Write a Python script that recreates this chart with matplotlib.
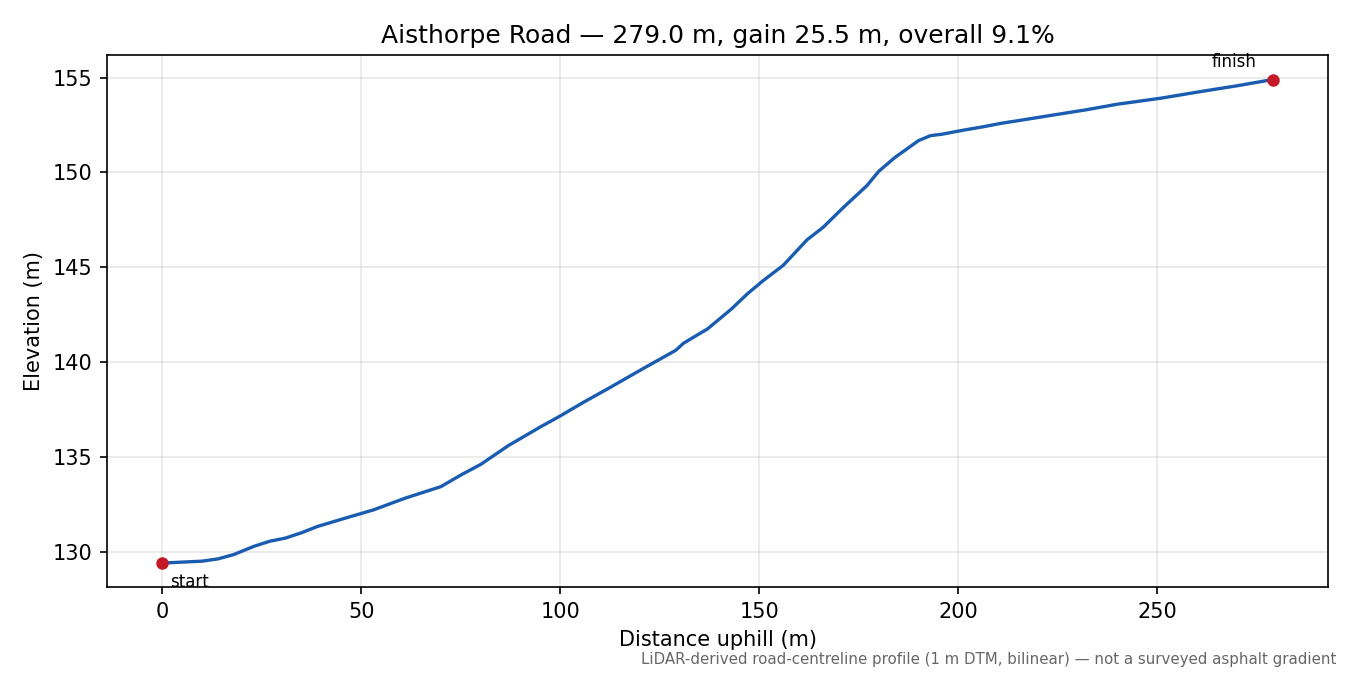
import numpy as np
import matplotlib.pyplot as plt

# profile (distance uphill in m, elevation in m)
distance = [0, 5, 10, 14, 18, 23, 27, 31, 35, 39, 46, 53, 61, 70, 75,
            80, 87, 95, 100, 106, 112, 120, 129, 131, 137, 143, 147, 151,
            156, 162, 166, 171, 177, 180, 184, 188, 190, 193, 196, 201, 206,
            211, 215, 223, 232, 240, 251, 261, 270, 279]
elevation = [129.4, 129.45, 129.5, 129.62, 129.85, 130.28, 130.55, 130.72,
             131.0, 131.33, 131.77, 132.2, 132.82, 133.43, 134.04, 134.6,
             135.6, 136.58, 137.16, 137.9, 138.6, 139.56, 140.62, 141.0,
             141.75, 142.8, 143.6, 144.3, 145.1, 146.45, 147.1, 148.13,
             149.3, 150.06, 150.78, 151.38, 151.68, 151.94, 152.02, 152.22,
             152.4, 152.6, 152.73, 153.0, 153.3, 153.6, 153.92, 154.27,
             154.57, 154.9]

road = "Aisthorpe Road"
length = distance[-1]
gain = elevation[-1] - elevation[0]
grade = gain / length * 100

fig, ax = plt.subplots(figsize=(9, 4.5), dpi=150)
plt.subplots_adjust(left=0.079, right=0.984, top=0.918, bottom=0.13)

ax.plot(distance, elevation, color="#1a5cb0", lw=1.6)
ax.plot([distance[0], distance[-1]], [elevation[0], elevation[-1]], "o",
        color="#c41a28", ms=5, zorder=3)

ax.annotate("start", (distance[0], elevation[0]), xytext=(4, -5),
            textcoords="offset points", ha="left", va="top", fontsize=8)
ax.annotate("finish", (distance[-1], elevation[-1]), xytext=(-8, 4),
            textcoords="offset points", ha="right", va="bottom", fontsize=8)

ax.grid(True, alpha=0.3)
ax.set_xlabel("Distance uphill (m)")
ax.set_ylabel("Elevation (m)")
ax.set_title(f"{road} \u2014 {length:.1f} m, gain {gain:.1f} m, overall {grade:.1f}%")

fig.text(0.99, 0.012,
         "LiDAR-derived road-centreline profile (1 m DTM, bilinear) \u2014 not a surveyed asphalt gradient",
         ha="right", va="bottom", fontsize=7.2, color="#666666")

plt.savefig("out.png")
